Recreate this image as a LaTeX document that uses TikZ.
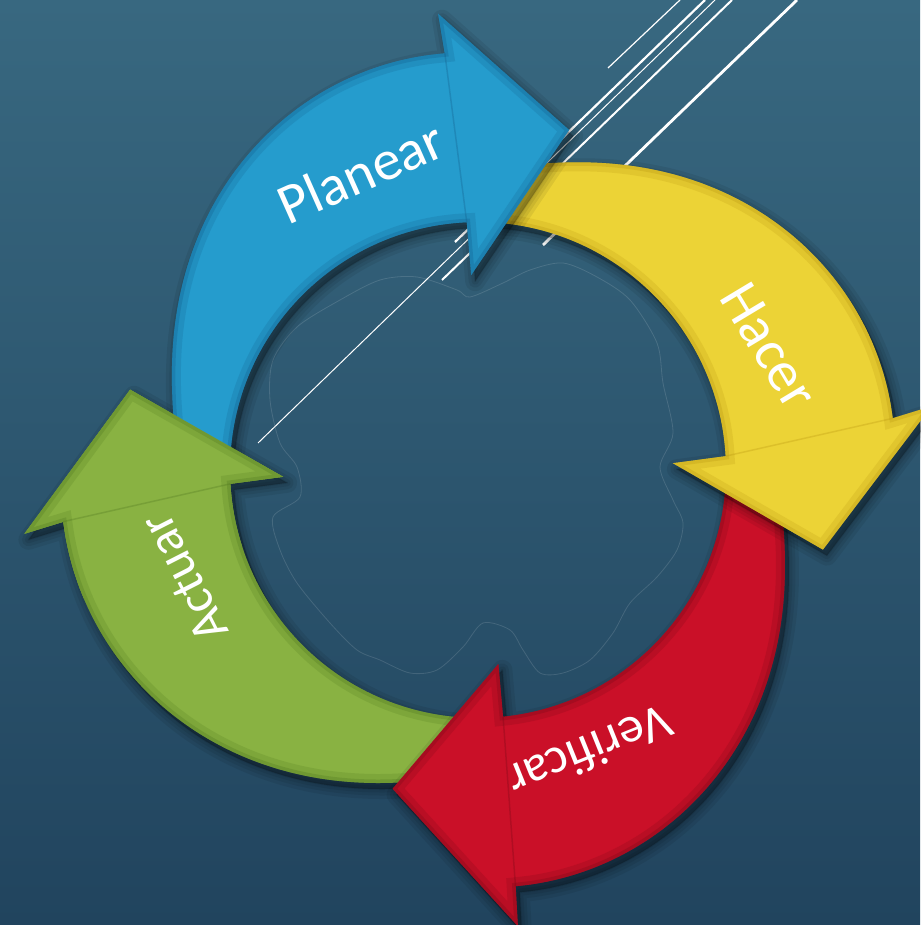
\documentclass[tikz,border=0pt]{standalone}
\usepackage{fontspec}
\setmainfont{Carlito}

\definecolor{bgtop}{RGB}{56,104,128}
\definecolor{bgbottom}{RGB}{33,68,94}
\definecolor{planblue}{RGB}{37,156,205}
\definecolor{planedge}{RGB}{18,92,138}
\definecolor{doyellow}{RGB}{236,211,54}
\definecolor{doedge}{RGB}{185,150,15}
\definecolor{checkred}{RGB}{202,16,40}
\definecolor{checkedge}{RGB}{118,8,22}
\definecolor{actgreen}{RGB}{137,178,66}
\definecolor{actedge}{RGB}{78,118,30}

% outline of one arrow: #1 inner corner, #2 outer corner, #3 tip angle, #4 tip radius, #5 tail angle
\newcommand{\pdcapath}[5]{%
  plot[domain=0:1,samples=40,smooth] ({#5-(#5-(#1+0.85*(#2-#1)))*\x}:{300+118*sin(90*\x)*sqrt(sin(90*\x))})
  -- (#2:458) -- (#3:#4) -- (#1:195) -- ({#1+0.2*(#2-#1)}:248)
  arc[start angle={#1+0.2*(#2-#1)}, end angle=#5, radius=248] -- cycle}

\newcommand{\pdcashadow}[5]{%
  \begin{scope}[shift={(4,-6)}]
    \foreach \w in {20,13,7,2}
      \filldraw[arrow shadow, line width=\w] \pdcapath{#1}{#2}{#3}{#4}{#5};
  \end{scope}}

% #6 fill colour, #7 edge colour
\newcommand{\pdcabody}[7]{%
  \fill[#6] \pdcapath{#1}{#2}{#3}{#4}{#5};
  \begin{scope}
    \clip \pdcapath{#1}{#2}{#3}{#4}{#5};
    \draw[#7, line width=18, opacity=.2] \pdcapath{#1}{#2}{#3}{#4}{#5};
    \draw[#7, line width=7, opacity=.28] \pdcapath{#1}{#2}{#3}{#4}{#5};
    \draw[#7, line width=1.5, opacity=.3] ({#1+0.2*(#2-#1)}:248) -- ({#1+0.85*(#2-#1)}:418);
  \end{scope}}

\begin{document}
\begin{tikzpicture}[x=1pt, y=1pt,
    arrow shadow/.style={black, opacity=.07, line join=round},
    pdca label/.style={text=white, inner sep=0pt},
    deco line/.style={white, line cap=butt},
    map line/.style={white, opacity=.13, line width=.8}]

  % background
  \useasboundingbox (-478,-455) rectangle (442,470);
  \shade[top color=bgtop, bottom color=bgbottom] (-478,-455) rectangle (442,470);

  % faint map in the middle
  \draw[map line] plot[smooth cycle, tension=.5] coordinates {
    (-181,143) (-138,170) (-98,190) (-61,193) (-21,180) (-8,173) (25,187)
    (52,200) (85,207) (119,193) (152,170) (179,127) (185,87) (195,37)
    (182,3) (195,-30) (205,-53) (199,-80) (179,-107) (152,-133) (135,-163)
    (112,-190) (85,-203) (62,-203) (45,-180) (32,-160) (5,-153) (-15,-177)
    (-41,-200) (-68,-203) (-98,-190) (-121,-180) (-148,-153) (-181,-113)
    (-198,-80) (-205,-47) (-178,-27) (-181,3) (-198,27) (-208,70) (-205,110)};

  % white diagonal lines
  \draw[deco line, line width=1.2] (130,402) -- (202,470);
  \draw[deco line, line width=2.2] (-23,228) -- (227,470);
  \draw[deco line, line width=1] (-220,27) -- (237,470);
  \draw[deco line, line width=2] (-36,190) -- (254,470);
  \draw[deco line, line width=2.8] (65,225) -- (319,470);

  % arrows: Actuar, Verificar, Hacer, Planear
  \pdcashadow{182}{188}{167}{357}{274.5}
  \pdcabody{182}{188}{167}{357}{274.5}{actgreen}{actedge}
  \pdcashadow{-84}{-85}{-105}{330}{0.5}
  \pdcabody{-84}{-85}{-105}{330}{0.5}{checkred}{checkedge}
  \pdcashadow{2}{8}{-13}{354}{90.5}
  \pdcabody{2}{8}{-13}{354}{90.5}{doyellow}{doedge}
  \pdcashadow{92}{95}{75}{352}{180}
  \pdcabody{92}{95}{75}{352}{180}{planblue}{planedge}

  % green head again, over the blue tail
  \begin{scope}
    \clip (0,0) -- (158:540) -- (178:560) -- (198:540) -- cycle;
    \pdcabody{182}{188}{167}{357}{274.5}{actgreen}{actedge}
  \end{scope}

  % labels
  \node[pdca label, rotate=24, font=\fontsize{57}{57}\selectfont] (planear) at (-117,298) {Planear};
  \node[pdca label, rotate=-59, font=\fontsize{57}{57}\selectfont] (hacer) at (291,124) {Hacer};
  \node[pdca label, rotate=-158, font=\fontsize{51}{51}\selectfont] (verificar) at (112,-282) {Verificar};
  \node[pdca label, rotate=117, font=\fontsize{51}{51}\selectfont] (actuar) at (-294,-108) {Actuar};

\end{tikzpicture}
\end{document}
